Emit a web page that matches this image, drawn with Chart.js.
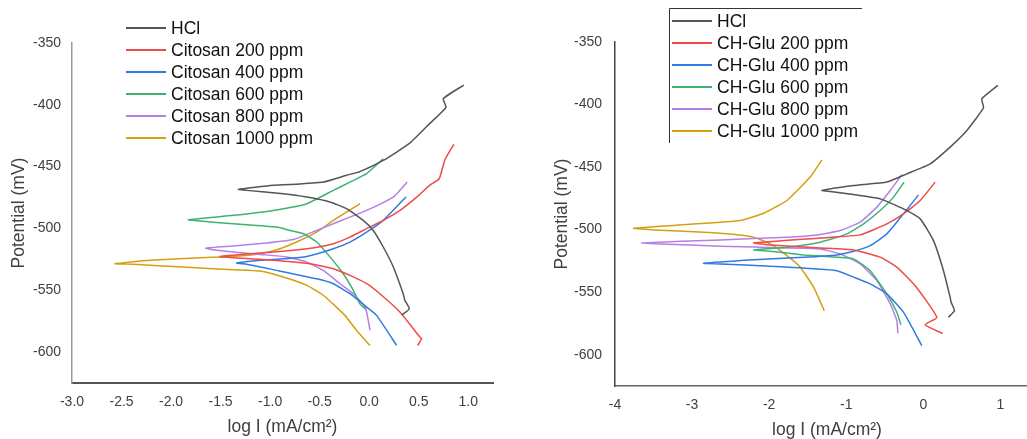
<!DOCTYPE html>
<html>
<head>
<meta charset="utf-8">
<script src="https://cdn.jsdelivr.net/npm/chart.js@4/dist/chart.umd.min.js"></script>
<style>
  html, body { margin: 0; padding: 0; background: #fff; overflow: hidden; }
  #wrap { position: relative; width: 1027px; height: 439px; overflow: hidden; }
  #c1 { position: absolute; left: 0; top: 0; }
  #c2 { position: absolute; left: 520px; top: 0; }
</style>
</head>
<body>
<div id="wrap">
  <canvas id="c1" width="520" height="439"></canvas>
  <canvas id="c2" width="519" height="442"></canvas>
</div>
<script>
// left panel: chitosan
const citosanLabels = ["HCl", "Citosan 200 ppm", "Citosan 400 ppm", "Citosan 600 ppm", "Citosan 800 ppm", "Citosan 1000 ppm"];
const hclA = [[0.956,-384],[0.748,-395],[0.775,-402],[0.613,-415],[0.41,-431],[0.142,-445],[-0.093,-454],[-0.228,-457],[-0.463,-462.5],[-0.699,-464],[-0.968,-465],[-1.32,-468.4],[-1.237,-469.2],[-0.867,-472],[-0.632,-474.6],[-0.396,-478.6],[-0.228,-484],[-0.06,-493.5],[0.041,-501.6],[0.142,-515],[0.243,-531],[0.344,-553],[0.36,-558],[0.405,-565],[0.327,-570]];
const cit200 = [[0.855,-432],[0.765,-444.4],[0.707,-459.8],[0.613,-465],[0.48,-474.6],[0.31,-485.4],[0.142,-493.5],[-0.026,-500.2],[-0.194,-507],[-0.362,-512.3],[-0.63,-516.4],[-0.968,-519],[-1.3,-521],[-1.506,-522.6],[-1.372,-523.7],[-1.035,-525.3],[-0.6,-528.5],[-0.362,-532.6],[-0.194,-538],[-0.026,-544.7],[0.108,-552.8],[0.31,-567.6],[0.512,-587.9],[0.53,-589],[0.489,-594.6]];
const cit400 = [[0.371,-474.6],[0.142,-493.5],[-0.026,-503],[-0.194,-511],[-0.362,-516.4],[-0.63,-522.6],[-0.867,-524.5],[-1.1,-525.8],[-1.338,-528],[-1.237,-529],[-0.934,-533.9],[-0.53,-540.7],[-0.362,-544.7],[-0.194,-552.8],[-0.026,-563.6],[0.075,-570.3],[0.277,-594.6]];
const cit600 = [[0.142,-443.6],[-0.026,-455.7],[-0.194,-462.5],[-0.362,-469.2],[-0.63,-480],[-0.968,-485.4],[-1.372,-489.4],[-1.826,-493],[-1.708,-494],[-1.372,-496.2],[-0.934,-498.9],[-0.8,-501.6],[-0.665,-504.3],[-0.53,-511],[-0.396,-523],[-0.262,-536.6],[-0.16,-550],[-0.093,-561],[-0.04,-565]];
const cit800 = [[0.384,-462.5],[0.31,-469.2],[0.243,-474.6],[-0.026,-485.4],[-0.362,-496.2],[-0.53,-501.6],[-0.766,-509],[-1.035,-511.8],[-1.372,-514.2],[-1.651,-516],[-1.54,-517.7],[-1.1,-521],[-0.834,-523],[-0.63,-527.2],[-0.463,-534],[-0.295,-544.7],[-0.16,-552.8],[-0.04,-563.6],[-0.009,-574.4],[0.008,-582.5]];
const cit1000 = [[-0.093,-480],[-0.362,-493.5],[-0.53,-503],[-0.699,-509.7],[-0.9,-516.4],[-1.1,-520.4],[-1.372,-522.6],[-1.708,-523.7],[-2.213,-525.8],[-2.566,-528.5],[-2.381,-529],[-1.876,-531.2],[-1.372,-533.4],[-1.1,-534.5],[-0.867,-539.3],[-0.63,-546],[-0.463,-554],[-0.245,-570.3],[-0.127,-582.5],[0.008,-594.6]];

// right panel: CH-Glu
const chgluLabels = ["HCl", "CH-Glu 200 ppm", "CH-Glu 400 ppm", "CH-Glu 600 ppm", "CH-Glu 800 ppm", "CH-Glu 1000 ppm"];
const hclB = [[0.965,-384.7],[0.758,-395.4],[0.78,-402.6],[0.564,-420.7],[0.347,-434],[0.088,-447.4],[-0.214,-455.4],[-0.474,-462],[-0.906,-464.7],[-1.316,-468.7],[-1.208,-469.5],[-0.906,-472],[-0.56,-475.4],[-0.258,-483.4],[-0.041,-491.4],[0.131,-508.8],[0.261,-532.8],[0.347,-554],[0.36,-558],[0.404,-564.8],[0.326,-570]];
const glu200 = [[0.153,-462],[-0.041,-476.7],[-0.258,-487.4],[-0.474,-495.4],[-0.82,-504.2],[-1.338,-506.6],[-2.202,-510.6],[-1.986,-512.2],[-1.338,-514.6],[-0.906,-516.2],[-0.56,-522],[-0.344,-530],[-0.106,-544.8],[0.175,-570.1],[0.023,-576],[0.252,-583]];
const glu400 = [[-0.063,-472.2],[-0.258,-487.4],[-0.474,-503.4],[-0.69,-512.8],[-0.906,-517.3],[-1.122,-520.2],[-1.554,-522.1],[-2.202,-524],[-2.85,-526.9],[-2.634,-527.4],[-1.986,-529.3],[-1.122,-532.8],[-0.906,-538],[-0.69,-543.4],[-0.474,-551.4],[-0.258,-566],[-0.02,-592.8]];
const glu600 = [[-0.249,-462],[-0.387,-474],[-0.56,-484.7],[-0.776,-495.4],[-0.992,-503.4],[-1.338,-510],[-1.77,-514],[-2.202,-516.2],[-1.986,-517.3],[-1.554,-520.2],[-1.122,-522],[-0.906,-523.4],[-0.69,-532.8],[-0.474,-551.4],[-0.344,-566],[-0.292,-576]];
const glu800 = [[-0.279,-456],[-0.43,-468.7],[-0.603,-482],[-0.82,-494],[-1.079,-500.7],[-1.38,-504.2],[-1.77,-506],[-2.634,-508.2],[-3.65,-510.6],[-3.412,-511.4],[-2.634,-513.3],[-1.77,-514.6],[-1.338,-515.4],[-1.079,-519.4],[-0.82,-527.4],[-0.603,-540.8],[-0.43,-559.4],[-0.344,-572.8],[-0.331,-583]];
const glu1000 = [[-1.316,-444.2],[-1.468,-458],[-1.77,-476.7],[-2.073,-486.9],[-2.375,-492.7],[-3.067,-495.9],[-3.758,-498.9],[-3.499,-500.2],[-2.85,-502.1],[-2.418,-504],[-2.202,-506],[-1.986,-511.4],[-1.77,-520.8],[-1.597,-530],[-1.424,-546],[-1.286,-564.8]];

const yTicks = [-350, -400, -450, -500, -550, -600];
const xTicksA = [-3.0, -2.5, -2.0, -1.5, -1.0, -0.5, 0.0, 0.5, 1.0];
const xTicksB = [-4, -3, -2, -1, 0, 1];

const colors = ["#555555", "#f04a4a", "#2f7be0", "#3cb371", "#b57ee8", "#d4a012"];

Chart.defaults.font.family = "'Liberation Sans', Arial, sans-serif";
Chart.defaults.color = "#404040";

function makeSets(labels, series) {
  return series.map((s, i) => ({
    label: labels[i],
    data: s.map(p => ({ x: p[0], y: p[1] })),
    borderColor: colors[i],
    borderWidth: 1.5,
    pointRadius: 0,
    showLine: true,
    tension: 0.15,
    fill: false
  }));
}

// draws the vertical legend at a fixed spot
const sideLegend = {
  id: "sideLegend",
  afterDraw(chart, args, opts) {
    const ctx = chart.ctx;
    ctx.save();
    if (opts.box) {
      ctx.strokeStyle = "#333";
      ctx.lineWidth = 1;
      ctx.beginPath();
      ctx.moveTo(opts.box[0] + 0.5, opts.box[3]);
      ctx.lineTo(opts.box[0] + 0.5, opts.box[1] + 0.5);
      ctx.lineTo(opts.box[2], opts.box[1] + 0.5);
      ctx.stroke();
    }
    ctx.font = "17.5px 'Liberation Sans', Arial, sans-serif";
    ctx.textBaseline = "middle";
    ctx.fillStyle = "#111";
    chart.data.datasets.forEach((ds, i) => {
      const y = opts.y + i * opts.step;
      ctx.strokeStyle = ds.borderColor;
      ctx.lineWidth = 2;
      ctx.beginPath();
      ctx.moveTo(opts.x, y);
      ctx.lineTo(opts.x + 40, y);
      ctx.stroke();
      ctx.fillText(ds.label, opts.x + 45, y + 1);
    });
    ctx.restore();
  }
};

function makeChart(id, labels, series, cfg) {
  return new Chart(document.getElementById(id), {
    type: "scatter",
    data: { datasets: makeSets(labels, series) },
    plugins: [sideLegend],
    options: {
      responsive: false,
      animation: false,
      layout: { padding: { left: 0, right: cfg.padRight, top: cfg.top, bottom: 0 } },
      plugins: {
        legend: { display: false },
        tooltip: { enabled: false },
        sideLegend: cfg.legend
      },
      scales: {
        x: {
          type: "linear",
          min: cfg.xMin,
          max: cfg.xMax,
          afterBuildTicks: s => { s.ticks = cfg.xTicks.map(v => ({ value: v })); },
          afterFit: s => { s.height = cfg.xHeight; },
          ticks: { font: { size: 14 }, padding: 11, callback: cfg.xFmt },
          grid: { display: false, drawTicks: false },
          border: { display: true, color: cfg.xAxisColor, width: cfg.xAxisWidth },
          title: { display: true, text: "log I (mA/cm²)", font: { size: 17.5 }, padding: { top: 0, bottom: cfg.xTitlePad } }
        },
        y: {
          type: "linear",
          min: -625,
          max: -350,
          afterBuildTicks: s => { s.ticks = yTicks.map(v => ({ value: v })); },
          afterFit: s => { s.width = cfg.yWidth; },
          ticks: { font: { size: 14 }, padding: cfg.yTickPad },
          grid: { display: false, drawTicks: false },
          border: { display: true, color: cfg.yAxisColor, width: 1.5 },
          title: { display: true, text: "Potential (mV)", font: { size: 17.5 }, padding: { top: cfg.yTitlePad, bottom: 0 } }
        }
      }
    }
  });
}

makeChart("c1", citosanLabels, [hclA, cit200, cit400, cit600, cit800, cit1000], {
  xMin: -3, xMax: 1.25, xTicks: xTicksA, xFmt: v => v.toFixed(1),
  padRight: 27, top: 43, xHeight: 56, yWidth: 72, yTickPad: 11, yTitlePad: 9, xTitlePad: 1,
  xAxisColor: "#555", xAxisWidth: 2, yAxisColor: "#999",
  legend: { x: 126, y: 28, step: 22 }
});

makeChart("c2", chgluLabels, [hclB, glu200, glu400, glu600, glu800, glu1000], {
  xMin: -4, xMax: 1.5, xTicks: xTicksB, xFmt: v => String(v),
  padRight: 0, top: 42, xHeight: 56, yWidth: 95, yTickPad: 13, yTitlePad: 32, xTitlePad: 1.8,
  xAxisColor: "#666", xAxisWidth: 1.5, yAxisColor: "#444",
  legend: { x: 152, y: 21, step: 22, box: [149, 8, 342, 143] }
});
</script>
</body>
</html>
